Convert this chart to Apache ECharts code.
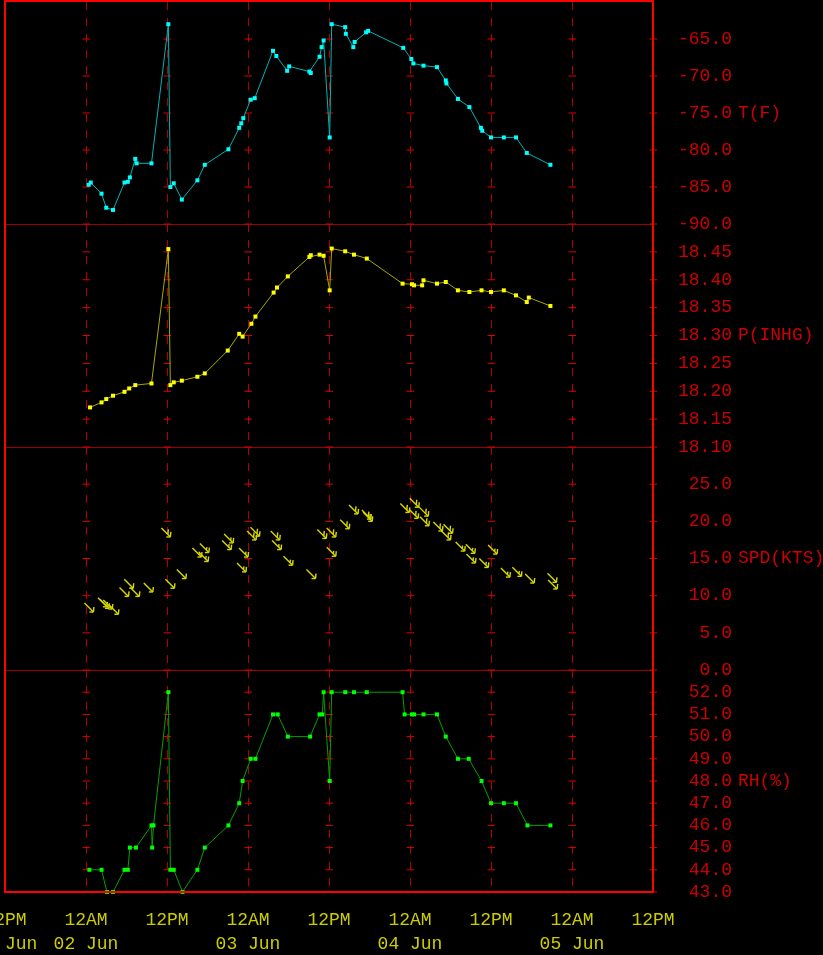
<!DOCTYPE html>
<html><head><meta charset="utf-8">
<script src="https://cdn.jsdelivr.net/npm/echarts@6.0.0/dist/echarts.min.js"></script>
<style>html,body{margin:0;padding:0;background:#000;}#c{width:823px;height:955px;}</style>
</head><body><div id="c"></div>
<script>
// Time in hours since 00 UTC 02 Jun
const tempHours  = [0.4,0.7,2.3,3.0,4.0,5.7,6.2,6.5,7.3,7.5,9.7,12.2,12.5,13.0,14.2,16.5,17.6,21.1,22.7,23.0,23.3,24.4,25.0,27.7,28.2,29.8,30.1,33.1,33.3,34.6,34.9,35.2,36.1,36.4,38.4,38.5,39.6,39.8,41.5,41.8,47.0,48.2,48.5,50.0,52.0,53.3,53.4,55.1,56.8,58.5,58.7,60.0,61.9,63.7,65.3,68.8];
const tempValues = [-84.7,-84.4,-85.9,-87.8,-88.1,-84.4,-84.3,-83.7,-81.2,-81.8,-81.8,-63.0,-85.0,-84.5,-86.7,-84.1,-82.0,-79.9,-77.0,-76.4,-75.7,-73.2,-73.0,-66.6,-67.3,-69.3,-68.7,-69.4,-69.6,-67.4,-66.1,-65.2,-78.3,-63.0,-63.4,-64.3,-66.1,-65.4,-64.1,-63.9,-66.2,-67.7,-68.3,-68.6,-68.8,-70.6,-71.0,-73.1,-74.2,-77.0,-77.4,-78.3,-78.3,-78.3,-80.4,-82.0];

const presHours  = [0.6,2.3,3.0,4.0,5.7,6.4,7.3,9.7,12.2,12.5,13.0,14.2,16.5,17.6,21.0,22.7,23.2,24.5,25.1,27.8,28.3,29.9,33.1,33.3,34.6,35.2,36.1,36.4,38.4,39.7,41.6,46.9,48.3,48.6,49.8,50.0,52.0,53.3,55.1,56.8,58.6,60.0,61.9,63.7,65.3,65.6,68.8];
const presValues = [18.171,18.180,18.186,18.192,18.199,18.205,18.211,18.214,18.455,18.211,18.216,18.219,18.226,18.232,18.273,18.303,18.298,18.321,18.334,18.377,18.386,18.406,18.441,18.444,18.445,18.443,18.381,18.456,18.451,18.445,18.438,18.393,18.392,18.390,18.390,18.399,18.393,18.396,18.381,18.378,18.381,18.378,18.381,18.372,18.360,18.368,18.353];

const windHours  = [1.1,3.1,3.4,3.9,4.8,6.3,7.0,7.9,9.9,12.5,13.1,14.8,17.1,18.1,18.2,21.5,21.8,23.7,24.0,25.2,25.7,28.7,28.9,30.6,34.0,35.6,37.0,37.0,39.0,40.3,42.2,42.4,47.9,49.2,49.3,50.7,50.8,52.8,54.0,54.3,56.1,57.6,57.7,59.6,60.9,62.8,64.5,66.4,69.7,69.8];
const windSpeeds = [7.8,8.5,8.3,8.2,7.5,9.9,11.0,9.9,10.5,17.9,11.0,12.3,15.2,14.6,15.8,16.2,17.1,13.2,15.2,17.5,18.0,17.5,16.2,14.1,12.3,17.7,17.9,15.3,19.0,21.0,20.3,20.0,21.2,20.4,21.9,20.7,19.4,18.7,17.5,18.4,16.0,15.7,14.4,13.8,15.6,12.5,12.6,11.7,11.8,10.9];

const rhHours  = [0.5,2.3,3.1,4.0,5.7,6.2,6.5,7.4,9.7,9.8,10.0,12.2,12.5,13.0,14.3,16.5,17.6,21.1,22.7,23.2,24.4,25.1,27.7,28.4,29.9,33.2,34.6,35.0,35.2,36.1,36.4,38.4,39.7,41.6,46.9,47.2,48.3,48.6,50.0,52.0,53.3,55.1,56.7,58.6,60.0,61.9,63.7,65.4,68.8];
const rhValues = [44,44,43,43,44,44,45,45,46,45,46,52,44,44,43,44,45,46,47,48,49,49,51,51,50,50,51,51,52,48,52,52,52,52,52,51,51,51,51,51,50,49,49,48,47,47,47,46,46];

const xTickHours = [-12,0,12,24,36,48,60,72,84];
const dateLabels = ['01 Jun','02 Jun','03 Jun','04 Jun','05 Jun'];
const tTicks   = [-90,-85,-80,-75,-70,-65,-60];
const pTicks   = [18.10,18.15,18.20,18.25,18.30,18.35,18.40,18.45,18.50];
const spdTicks = [0,5,10,15,20,25,30];
const rhTicks  = [43,44,45,46,47,48,49,50,51,52,53];
const axisNames = ['T(F)','P(INHG)','SPD(KTS)','RH(%)'];

const FONT = 'Liberation Mono';
const panels = [
  {top:2, height:222, ticks:tTicks, dec:1, interval:5},
  {top:224, height:223, ticks:pTicks, dec:2, interval:0.05},
  {top:447, height:223, ticks:spdTicks, dec:1, interval:5},
  {top:670, height:222, ticks:rhTicks, dec:1, interval:1}
];
const zip = (a,b) => a.map((v,i)=>[v,b[i]]);

const grids = [], xAxes = [], yAxes = [], series = [];
panels.forEach((p,i) => {
  grids.push({left:5, width:648, top:p.top, height:p.height, show:false, containLabel:false, outerBoundsMode:'none'});
  const last = i === panels.length-1;
  xAxes.push({
    type:'value', gridIndex:i, min:xTickHours[0], max:xTickHours[xTickHours.length-1], interval:12,
    axisLine:{show:true, onZero:false, lineStyle:{color: last ? '#ff0000' : '#990000', width: last ? 2 : 1}},
    axisTick:{show:false},
    splitLine:{show:true, lineStyle:{color:'#b00000', type:[8,8], width:1}},
    axisLabel:{show:last, showMinLabel:true, showMaxLabel:true, hideOverlap:false, color:'#cccc00', fontFamily:FONT, fontSize:18,
      lineHeight:24, margin:16,
      formatter: v => {
        const h = ((v % 24) + 24) % 24;
        const lbl = h === 0 ? '12AM' : '12PM';
        if (h === 0 || v === xTickHours[0]) return lbl + '\n' + dateLabels[Math.floor((v + 24) / 24)];
        return lbl;
      }}
  });
  yAxes.push({
    type:'value', gridIndex:i, position:'right', min:p.ticks[0], max:p.ticks[p.ticks.length-1], interval:p.interval,
    axisLine:{show:true, onZero:false, lineStyle:{color:'#ff0000', width:2}},
    axisTick:{show:false},
    splitLine:{show:false},
    axisLabel:{showMaxLabel:false, showMinLabel:true, color:'#cc0000', fontFamily:FONT, fontSize:18, align:'right', margin:79,
      formatter: v => v.toFixed(p.dec)},
    name: axisNames[i], nameLocation:'middle', nameGap:80, nameRotate:0,
    nameTextStyle:{color:'#cc0000', fontFamily:FONT, fontSize:18, align:'left', verticalAlign:'middle'}
  });
  // small tick crosses at grid lines and right edge
  const crossData = [];
  xTickHours.slice(1).forEach(h => p.ticks.slice(0,-1).forEach(v => crossData.push([h,v])));
  series.push({
    type:'custom', xAxisIndex:i, yAxisIndex:i, clip:false, silent:true, z:1, data:crossData,
    renderItem:(params, api) => {
      const c = api.coord([api.value(0), api.value(1)]);
      return {type:'line', shape:{x1:c[0]-3.5, y1:c[1], x2:c[0]+4, y2:c[1]}, style:{stroke:'#e00000', lineWidth:1}};
    }
  });
});

const lineSeries = (idx, hours, vals, lineColor, dotColor) => ({
  type:'line', xAxisIndex:idx, yAxisIndex:idx, data:zip(hours, vals), z:3,
  symbol:'rect', symbolSize:[4,4], showAllSymbol:true,
  lineStyle:{color:lineColor, width:1}, itemStyle:{color:dotColor}
});
series.push(lineSeries(0, tempHours, tempValues, '#00b4b4', '#00ffff'));
series.push(lineSeries(1, presHours, presValues, '#a8a800', '#ffff00'));
series.push(lineSeries(3, rhHours, rhValues, '#00a000', '#00ff00'));

series.push({
  type:'custom', xAxisIndex:2, yAxisIndex:2, data:zip(windHours, windSpeeds), z:3, clip:false,
  renderItem:(params, api) => {
    const c = api.coord([api.value(0), api.value(1)]);
    const x = c[0], y = c[1], spd = api.value(1);
    const st = {stroke:'#d8d800', lineWidth:1.4};
    const kids = [
      {type:'line', shape:{x1:x-9, y1:y-9, x2:x, y2:y}, style:st},
      {type:'line', shape:{x1:x-4, y1:y, x2:x, y2:y}, style:st}
    ];
    let n = Math.round(spd / 5);
    let k = 0;
    while (n > 0) {
      const len = n >= 2 ? 5 : 3;
      const bx = x - k*2.5, by = y - k*2.5;
      kids.push({type:'line', shape:{x1:bx, y1:by, x2:bx+0.5, y2:by-len}, style:st});
      n -= 2; k++;
    }
    return {type:'group', children:kids};
  }
});

const chart = echarts.init(document.getElementById('c'), null, {renderer:'canvas'});
chart.setOption({
  backgroundColor:'#000',
  animation:false,
  grid:grids, xAxis:xAxes, yAxis:yAxes, series:series,
  graphic:[{type:'rect', z:10, silent:true, shape:{x:5, y:1, width:648, height:891},
    style:{fill:null, stroke:'#ff0000', lineWidth:2}}]
});
</script></body></html>
